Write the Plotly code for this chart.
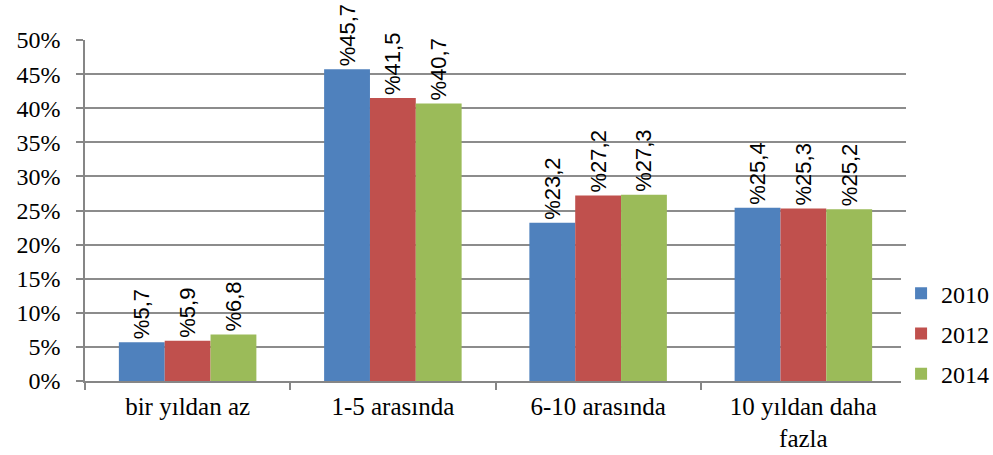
import plotly.graph_objects as go

categories = ["bir yıldan az", "1-5 arasında", "6-10 arasında", "10 yıldan daha<br>fazla"]
years = ["2010", "2012", "2014"]
values_2010 = [5.7, 45.7, 23.2, 25.4]
values_2012 = [5.9, 41.5, 27.2, 25.3]
values_2014 = [6.8, 40.7, 27.3, 25.2]
colors = ["#4F81BD", "#C0504D", "#9BBB59"]

serif = "Liberation Serif"
sans = "Liberation Sans"

fig = go.Figure()
for i, (name, vals) in enumerate(zip(years, [values_2010, values_2012, values_2014])):
    fig.add_trace(go.Bar(
        x=categories,
        y=vals,
        name=name,
        legendgroup=name,
        marker=dict(color=colors[i], line=dict(width=0)),
        text=["%" + f"{v:.1f}".replace(".", ",") for v in vals],
        textposition="outside",
        textangle=-90,
        constraintext="none",
        cliponaxis=False,
        textfont=dict(family=sans, size=22, color="black"),
    ))

fig.update_layout(
    width=993,
    height=455,
    margin=dict(l=85, r=87, t=40, b=74, autoexpand=False),
    paper_bgcolor="white",
    plot_bgcolor="white",
    barmode="group",
    bargap=0.33,
    bargroupgap=0,
    font=dict(family=serif, size=24, color="black"),
    legend=dict(
        x=0.994, xanchor="left",
        y=0.322, yanchor="top",
        font=dict(family=serif, size=24),
        traceorder="grouped",
        tracegroupgap=6,
        itemwidth=30,
    ),
    xaxis=dict(
        showline=True,
        linecolor="#868686",
        linewidth=1.5,
        ticks="outside",
        tickson="boundaries",
        ticklen=7,
        tickcolor="#868686",
        tickwidth=1.5,
        ticklabelstandoff=2,
        tickfont=dict(family=serif, size=25),
    ),
    yaxis=dict(
        range=[0, 50],
        dtick=5,
        ticksuffix="%",
        showgrid=True,
        gridcolor="#8C8C8C",
        gridwidth=1.5,
        showline=True,
        linecolor="#868686",
        linewidth=1.5,
        ticks="outside",
        ticklen=7,
        tickcolor="#868686",
        tickwidth=1.5,
        ticklabelstandoff=11,
        tickfont=dict(family=serif, size=24),
        zeroline=False,
    ),
)

fig.write_html("out.html")
